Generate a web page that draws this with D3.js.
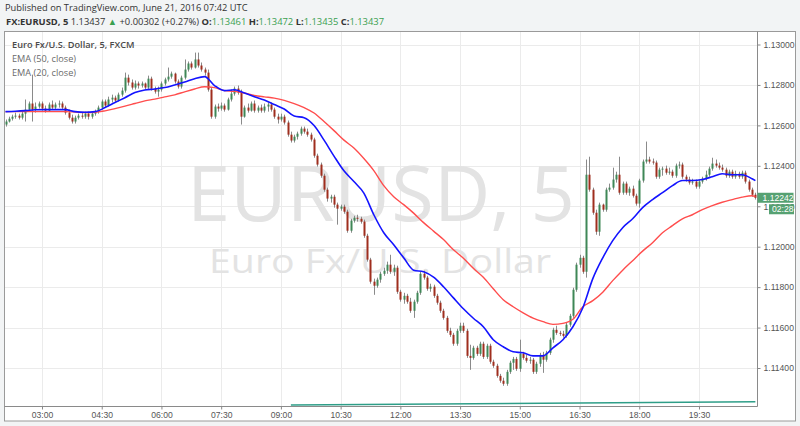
<!DOCTYPE html>
<html><head><meta charset="utf-8">
<script src="https://cdn.jsdelivr.net/npm/d3@7"></script>
<style>
html,body{margin:0;padding:0;background:#f2f4f5;}
svg{display:block;}
</style></head><body>
<svg id="c" width="800" height="426"></svg>
<script>
// ---------------- DATA ----------------
const startTime = "2016-06-20T02:05:00";
const barMinutes = 5;
const opens = [1.12604,1.12619,1.12633,1.12643,1.12648,1.12638,1.12658,1.12678,1.12708,1.12678,
1.12693,1.12708,1.12683,1.12673,1.12703,1.12688,1.12703,1.12708,1.12688,1.12663,
1.12638,1.12619,1.12638,1.12648,1.12643,1.12658,1.12643,1.12658,1.12668,1.12688,
1.12718,1.12698,1.12728,1.12737,1.12723,1.12752,1.12772,1.12836,1.12812,1.12787,
1.12807,1.12797,1.12807,1.12787,1.12831,1.12782,1.12767,1.12777,1.12807,1.12827,
1.12841,1.12856,1.12817,1.12792,1.12836,1.12876,1.12906,1.12886,1.12926,1.12896,
1.12876,1.12861,1.12777,1.12643,1.12693,1.12683,1.12698,1.12678,1.12728,1.12757,
1.12782,1.12762,1.12643,1.12688,1.12673,1.12708,1.12673,1.12688,1.12673,1.12693,
1.12703,1.12678,1.12643,1.12629,1.12643,1.12614,1.12554,1.12525,1.12544,1.12559,
1.12584,1.12569,1.12554,1.12530,1.12450,1.12406,1.12351,1.12282,1.12238,1.12247,
1.12208,1.12188,1.12198,1.12173,1.12079,1.12129,1.12143,1.12138,1.12124,1.12054,
1.11936,1.11827,1.11807,1.11837,1.11866,1.11881,1.11911,1.11876,1.11896,1.11777,
1.11738,1.11757,1.11728,1.11683,1.11728,1.11772,1.11866,1.11847,1.11792,1.11802,
1.11757,1.11723,1.11683,1.11648,1.11584,1.11564,1.11520,1.11584,1.11609,1.11584,
1.11460,1.11450,1.11500,1.11470,1.11520,1.11455,1.11510,1.11431,1.11411,1.11361,
1.11337,1.11322,1.11381,1.11426,1.11445,1.11396,1.11470,1.11450,1.11436,1.11441,
1.11381,1.11421,1.11465,1.11441,1.11475,1.11540,1.11589,1.11574,1.11569,1.11559,
1.11614,1.11658,1.11787,1.11911,1.11945,1.11876,1.12356,1.12282,1.12168,1.12074,
1.12208,1.12183,1.12282,1.12292,1.12332,1.12356,1.12267,1.12312,1.12267,1.12287,
1.12252,1.12213,1.12327,1.12421,1.12431,1.12421,1.12416,1.12346,1.12381,1.12386,
1.12366,1.12371,1.12351,1.12401,1.12406,1.12346,1.12332,1.12317,1.12322,1.12297,
1.12322,1.12336,1.12356,1.12386,1.12411,1.12401,1.12391,1.12381,1.12351,1.12371,
1.12346,1.12361,1.12346,1.12366,1.12322,1.12282,1.12257];
const highs = [1.12629,1.12643,1.12653,1.12663,1.12658,1.12668,1.12728,1.12718,1.12851,1.12713,
1.12718,1.12718,1.12698,1.12713,1.12723,1.12713,1.12723,1.12718,1.12698,1.12678,
1.12653,1.12648,1.12658,1.12663,1.12668,1.12668,1.12668,1.12678,1.12698,1.12728,
1.12728,1.12742,1.12752,1.12747,1.12762,1.12787,1.12861,1.12851,1.12827,1.12822,
1.12817,1.12817,1.12812,1.12846,1.12841,1.12792,1.12792,1.12817,1.12836,1.12886,
1.12866,1.12861,1.12827,1.12846,1.12926,1.12916,1.12916,1.12960,1.12960,1.12911,
1.12886,1.12876,1.12787,1.12703,1.12708,1.12713,1.12708,1.12737,1.12777,1.12792,
1.12797,1.12777,1.12698,1.12708,1.12718,1.12723,1.12698,1.12703,1.12708,1.12713,
1.12713,1.12688,1.12658,1.12658,1.12653,1.12624,1.12569,1.12554,1.12569,1.12594,
1.12594,1.12584,1.12564,1.12539,1.12460,1.12416,1.12361,1.12292,1.12257,1.12257,
1.12218,1.12208,1.12208,1.12183,1.12138,1.12153,1.12158,1.12148,1.12134,1.12064,
1.11945,1.11842,1.11847,1.11876,1.11896,1.11926,1.11960,1.11911,1.11906,1.11787,
1.11772,1.11767,1.11747,1.11738,1.11782,1.11876,1.11881,1.11856,1.11817,1.11812,
1.11767,1.11733,1.11693,1.11658,1.11599,1.11574,1.11594,1.11624,1.11624,1.11594,
1.11515,1.11510,1.11510,1.11530,1.11530,1.11520,1.11520,1.11441,1.11421,1.11371,
1.11352,1.11391,1.11436,1.11455,1.11455,1.11540,1.11480,1.11465,1.11455,1.11450,
1.11431,1.11475,1.11480,1.11485,1.11550,1.11599,1.11609,1.11584,1.11584,1.11624,
1.11668,1.11797,1.11921,1.11960,1.11955,1.12431,1.12445,1.12292,1.12183,1.12218,
1.12213,1.12292,1.12312,1.12391,1.12371,1.12445,1.12322,1.12322,1.12297,1.12302,
1.12262,1.12336,1.12431,1.12520,1.12445,1.12436,1.12426,1.12391,1.12396,1.12401,
1.12391,1.12381,1.12411,1.12421,1.12416,1.12356,1.12346,1.12336,1.12332,1.12332,
1.12346,1.12376,1.12396,1.12440,1.12431,1.12416,1.12406,1.12391,1.12381,1.12381,
1.12376,1.12371,1.12376,1.12376,1.12332,1.12292,1.12267];
const lows = [1.12594,1.12614,1.12624,1.12633,1.12629,1.12629,1.12619,1.12668,1.12619,1.12663,
1.12683,1.12673,1.12663,1.12668,1.12678,1.12678,1.12688,1.12678,1.12653,1.12629,
1.12609,1.12609,1.12629,1.12633,1.12633,1.12629,1.12633,1.12648,1.12658,1.12678,
1.12688,1.12693,1.12713,1.12713,1.12718,1.12742,1.12762,1.12797,1.12777,1.12777,
1.12782,1.12787,1.12777,1.12777,1.12772,1.12757,1.12742,1.12767,1.12797,1.12817,
1.12831,1.12807,1.12782,1.12782,1.12827,1.12866,1.12876,1.12881,1.12886,1.12866,
1.12846,1.12767,1.12633,1.12633,1.12668,1.12673,1.12668,1.12673,1.12718,1.12747,
1.12752,1.12604,1.12638,1.12663,1.12668,1.12663,1.12663,1.12663,1.12663,1.12668,
1.12668,1.12633,1.12609,1.12619,1.12604,1.12544,1.12515,1.12515,1.12530,1.12549,
1.12559,1.12544,1.12520,1.12440,1.12396,1.12341,1.12272,1.12223,1.12218,1.12193,
1.12109,1.12178,1.12163,1.12069,1.12069,1.12119,1.12124,1.12114,1.12044,1.11926,
1.11817,1.11762,1.11797,1.11822,1.11856,1.11866,1.11866,1.11856,1.11767,1.11728,
1.11718,1.11718,1.11673,1.11648,1.11718,1.11762,1.11837,1.11782,1.11777,1.11747,
1.11713,1.11673,1.11639,1.11574,1.11554,1.11510,1.11510,1.11574,1.11574,1.11450,
1.11391,1.11441,1.11460,1.11460,1.11445,1.11445,1.11421,1.11401,1.11352,1.11327,
1.11312,1.11312,1.11371,1.11391,1.11386,1.11381,1.11441,1.11426,1.11421,1.11371,
1.11371,1.11406,1.11376,1.11431,1.11465,1.11525,1.11564,1.11559,1.11550,1.11550,
1.11604,1.11648,1.11777,1.11896,1.11866,1.11847,1.12272,1.12158,1.12059,1.12054,
1.12173,1.12173,1.12272,1.12282,1.12317,1.12257,1.12257,1.12257,1.12252,1.12243,
1.12203,1.12193,1.12317,1.12411,1.12411,1.12406,1.12336,1.12336,1.12351,1.12356,
1.12356,1.12341,1.12341,1.12386,1.12336,1.12322,1.12307,1.12307,1.12287,1.12287,
1.12312,1.12327,1.12346,1.12376,1.12391,1.12381,1.12371,1.12341,1.12341,1.12336,
1.12336,1.12336,1.12336,1.12312,1.12272,1.12247,1.12233];
const closes = [1.12619,1.12633,1.12643,1.12648,1.12638,1.12658,1.12678,1.12708,1.12678,1.12693,
1.12708,1.12683,1.12673,1.12703,1.12688,1.12703,1.12708,1.12688,1.12663,1.12638,
1.12619,1.12638,1.12648,1.12643,1.12658,1.12643,1.12658,1.12668,1.12688,1.12718,
1.12698,1.12728,1.12737,1.12723,1.12752,1.12772,1.12836,1.12812,1.12787,1.12807,
1.12797,1.12807,1.12787,1.12831,1.12782,1.12767,1.12777,1.12807,1.12827,1.12841,
1.12856,1.12817,1.12792,1.12836,1.12876,1.12906,1.12886,1.12926,1.12896,1.12876,
1.12861,1.12777,1.12643,1.12693,1.12683,1.12698,1.12678,1.12728,1.12757,1.12782,
1.12762,1.12643,1.12688,1.12673,1.12708,1.12673,1.12688,1.12673,1.12693,1.12703,
1.12678,1.12643,1.12629,1.12643,1.12614,1.12554,1.12525,1.12544,1.12559,1.12584,
1.12569,1.12554,1.12530,1.12450,1.12406,1.12351,1.12282,1.12238,1.12247,1.12208,
1.12188,1.12198,1.12173,1.12079,1.12129,1.12143,1.12138,1.12124,1.12054,1.11936,
1.11827,1.11807,1.11837,1.11866,1.11881,1.11911,1.11876,1.11896,1.11777,1.11738,
1.11757,1.11728,1.11683,1.11728,1.11772,1.11866,1.11847,1.11792,1.11802,1.11757,
1.11723,1.11683,1.11648,1.11584,1.11564,1.11520,1.11584,1.11609,1.11584,1.11460,
1.11450,1.11500,1.11470,1.11520,1.11455,1.11510,1.11431,1.11411,1.11361,1.11337,
1.11322,1.11381,1.11426,1.11445,1.11396,1.11470,1.11450,1.11436,1.11441,1.11381,
1.11421,1.11465,1.11441,1.11475,1.11540,1.11589,1.11574,1.11569,1.11559,1.11614,
1.11658,1.11787,1.11911,1.11945,1.11876,1.12356,1.12282,1.12168,1.12074,1.12208,
1.12183,1.12282,1.12292,1.12332,1.12356,1.12267,1.12312,1.12267,1.12287,1.12252,
1.12213,1.12327,1.12421,1.12431,1.12421,1.12416,1.12346,1.12381,1.12386,1.12366,
1.12371,1.12351,1.12401,1.12406,1.12346,1.12332,1.12317,1.12322,1.12297,1.12322,
1.12336,1.12356,1.12386,1.12411,1.12401,1.12391,1.12381,1.12351,1.12371,1.12346,
1.12361,1.12346,1.12366,1.12322,1.12282,1.12257,1.12242];

// EMA readings (bar index -> value)
const emaBars = [0,3,6,9,12,15,18,21,24,27,30,33,36,39,42,45,48,51,54,57,60,63,66,69,72,75,78,81,84,87,
90,93,96,99,102,105,108,111,114,117,120,123,126,129,132,135,138,141,144,147,150,153,156,159,162,165,168,171,174,177,
180,183,186,189,192,195,198,201,204,207,210,213,216,219,222,225,226];
const ema20 = [1.12668,1.12670,1.12673,1.12677,1.12678,1.12678,1.12678,1.12668,1.12665,1.12668,
1.12688,1.12713,1.12737,1.12762,1.12775,1.12780,1.12787,1.12800,1.12814,1.12831,1.12841,1.12797,1.12772,1.12776,1.12760,1.12742,1.12725,1.12703,1.12681,1.12646,
1.12638,1.12599,1.12527,1.12448,1.12375,1.12322,1.12265,1.12158,1.12069,1.12010,1.11945,1.11884,1.11876,1.11849,1.11802,1.11747,1.11693,1.11646,1.11604,1.11540,
1.11505,1.11480,1.11475,1.11460,1.11460,1.11500,1.11540,1.11604,1.11698,1.11842,
1.11945,1.12030,1.12094,1.12138,1.12193,1.12233,1.12267,1.12302,1.12327,1.12327,1.12332,1.12346,1.12361,1.12356,1.12356,1.12336,1.12327];
const ema50 = [1.12668,1.12668,1.12668,1.12668,1.12668,1.12668,1.12668,1.12666,1.12664,1.12665,
1.12672,1.12683,1.12695,1.12708,1.12721,1.12730,1.12741,1.12751,1.12766,1.12780,1.12791,1.12787,1.12772,1.12768,1.12760,1.12748,1.12741,1.12735,1.12724,1.12708,
1.12688,1.12661,1.12619,1.12574,1.12527,1.12488,1.12436,1.12376,1.12302,1.12247,1.12208,1.12166,1.12119,1.12077,1.12035,1.11985,1.11943,1.11893,1.11849,1.11792,
1.11738,1.11703,1.11673,1.11647,1.11629,1.11616,1.11621,1.11641,1.11703,1.11733,
1.11775,1.11832,1.11884,1.11931,1.11978,1.12020,1.12069,1.12104,1.12138,1.12158,1.12183,1.12203,1.12220,1.12233,1.12245,1.12252,1.12247];

// teal drawing at the foot of the chart
const trendBars = [86, 226];
const trendValues = [1.11217, 1.11233];

const timeTickLabels = ["03:00","04:30","06:00","07:30","09:00","10:30","12:00","13:30","15:00","16:30","18:00","19:30"];
const priceTicks = [1.114,1.116,1.118,1.120,1.122,1.124,1.126,1.128,1.130];
const lastPrice = 1.12242;
const countdown = "02:28";

const headerLine1 = "Published on TradingView.com, June 21, 2016 07:42 UTC";
const symbolName = "FX:EURUSD, 5";
const lastText = "1.13437";
const changeText = "+0.00302 (+0.27%)";
const ohlcLabels = ["O:","H:","L:","C:"];
const ohlcValues = ["1.13461","1.13472","1.13435","1.13437"];
const legendTitle = "Euro Fx/U.S. Dollar, 5, FXCM";
const legendLines = ["EMA (50, close)","EMA (20, close)"];
const watermark1 = "EURUSD, 5";
const watermark2 = "Euro Fx/U.S. Dollar";

// ---------------- DRAW ----------------
const svg = d3.select("#c");
const t0 = new Date(startTime);
const barTime = i => new Date(t0.getTime() + i*barMinutes*60000);
const nBars = closes.length;

const plot = {left:5, right:757.5, top:32, bottom:406.5};
const x = d3.scaleTime().domain([barTime(0), barTime(nBars-1)]).range([5.5, 755.4]);
const y = d3.scaleLinear().domain([1.114, 1.130]).range([368, 44.5]);

// chart frame
svg.append("rect").attr("x",4.5).attr("y",31.5).attr("width",791).attr("height",389.5)
  .attr("fill","#fff").attr("stroke","#9a9a9a");

svg.append("clipPath").attr("id","pc").append("rect")
  .attr("x",plot.left).attr("y",plot.top).attr("width",plot.right-plot.left).attr("height",plot.bottom-plot.top);

const tickDates = timeTickLabels.map(s => { const [h,m]=s.split(":").map(Number); const d=new Date(t0); d.setHours(h,m,0,0); return d; });

// grid
const grid = svg.append("g").attr("clip-path","url(#pc)");
grid.selectAll("line.h").data(priceTicks).join("line")
  .attr("x1",plot.left).attr("x2",plot.right)
  .attr("y1",d=>Math.round(y(d))+0.5).attr("y2",d=>Math.round(y(d))+0.5)
  .attr("stroke","#ebebeb");
grid.selectAll("line.v").data(tickDates).join("line")
  .attr("y1",plot.top).attr("y2",plot.bottom)
  .attr("x1",d=>Math.round(x(d))+0.5).attr("x2",d=>Math.round(x(d))+0.5)
  .attr("stroke","#ebebeb");

// watermark
const wm = svg.append("g").attr("clip-path","url(#pc)").attr("font-family","'Open Sans', sans-serif").attr("fill","#e3e3e3").attr("text-anchor","middle");
wm.append("text").attr("x",381).attr("y",221).attr("font-size",77).attr("textLength",388).attr("lengthAdjust","spacingAndGlyphs").text(watermark1);
wm.append("text").attr("x",380).attr("y",273).attr("font-size",33).attr("textLength",342).attr("lengthAdjust","spacingAndGlyphs").text(watermark2);

// candles
const cg = svg.append("g").attr("clip-path","url(#pc)");
const idx = d3.range(nBars);
cg.selectAll("line.w").data(idx).join("line")
  .attr("x1",i=>Math.round(x(barTime(i)))+0.5).attr("x2",i=>Math.round(x(barTime(i)))+0.5)
  .attr("y1",i=>y(highs[i])).attr("y2",i=>y(lows[i]))
  .attr("stroke","#8a8a8a").attr("stroke-width",1);
cg.selectAll("rect.b").data(idx).join("rect")
  .attr("x",i=>Math.round(x(barTime(i)))-0.5)
  .attr("width",2)
  .attr("y",i=>y(Math.max(opens[i],closes[i])))
  .attr("height",i=>Math.max(1, Math.abs(y(opens[i])-y(closes[i]))))
  .attr("fill",i=>closes[i]>=opens[i]?"#3f8757":"#9f2e1e");

// EMAs
const lineGen = arr => d3.line().x((d,k)=>x(barTime(emaBars[k]))).y(d=>y(d)).curve(d3.curveMonotoneX)(arr);
cg.append("path").attr("d",lineGen(ema50)).attr("fill","none").attr("stroke","#ff4d4d").attr("stroke-width",1.4);
cg.append("path").attr("d",lineGen(ema20)).attr("fill","none").attr("stroke","#1414ff").attr("stroke-width",1.6);

// teal line
cg.append("path").attr("d", d3.line().x((d,k)=>x(barTime(trendBars[k]))).y(d=>y(d))(trendValues))
  .attr("fill","none").attr("stroke","#2e9e88").attr("stroke-width",1.6);

// axes
const axisFont = "'Liberation Sans', Arial, sans-serif";
const yAxis = svg.append("g").attr("transform",`translate(${plot.right},0)`)
  .call(d3.axisRight(y).tickValues(priceTicks).tickFormat(d3.format(".5f")).tickSize(3).tickPadding(3));
yAxis.select(".domain").remove();
yAxis.selectAll("text").attr("font-family",axisFont).attr("font-size",8.6).attr("fill","#555");
yAxis.selectAll("line").attr("stroke","#888");

const xAxis = svg.append("g").attr("transform",`translate(0,${plot.bottom})`)
  .call(d3.axisBottom(x).tickValues(tickDates).tickFormat(d3.timeFormat("%H:%M")).tickSize(3).tickPadding(2));
xAxis.select(".domain").remove();
xAxis.selectAll("text").attr("font-family",axisFont).attr("font-size",8.6).attr("fill","#555");
xAxis.selectAll("line").attr("stroke","#888");

svg.append("line").attr("x1",4.5).attr("x2",plot.right).attr("y1",plot.bottom).attr("y2",plot.bottom).attr("stroke","#8a8a8a");
svg.append("line").attr("x1",plot.right).attr("x2",plot.right).attr("y1",31.5).attr("y2",plot.bottom).attr("stroke","#8a8a8a");

// last price + countdown labels
const ly = y(lastPrice);
const lab = svg.append("g").attr("font-family",axisFont).attr("font-size",8.6).attr("fill","#fff");
lab.append("rect").attr("x",plot.right).attr("y",ly-5).attr("width",36).attr("height",10).attr("fill","#56a172");
lab.append("text").attr("x",plot.right+5).attr("y",ly+3.2).text(d3.format(".5f")(lastPrice));
lab.append("rect").attr("x",769).attr("y",ly+6.5).attr("width",25).attr("height",10).attr("fill","#56a172");
lab.append("text").attr("x",772).attr("y",ly+14.7).text(countdown);

// header
const hdrFont = "'Open Sans', sans-serif";
svg.append("text").attr("x",5).attr("y",11).attr("font-family",hdrFont).attr("font-size",9.3).attr("fill","#333").text(headerLine1);
const h2 = svg.append("text").attr("x",6).attr("y",25).attr("font-family",hdrFont).attr("font-size",9.4).attr("fill","#333");
h2.append("tspan").attr("font-weight","bold").text(symbolName);
h2.append("tspan").text(" " + lastText + " ");
h2.append("tspan").attr("fill","#3aa050").text("▲");
h2.append("tspan").text(" " + changeText + " ");
ohlcLabels.forEach((l,k)=>{
  h2.append("tspan").attr("font-weight","bold").text((k?" ":"")+l);
  h2.append("tspan").attr("fill","#3aa050").text(ohlcValues[k]);
});

// legend
svg.append("text").attr("x",12).attr("y",48).attr("font-family",hdrFont).attr("font-size",9.2).attr("font-weight","600").attr("fill","#4a4a4a").text(legendTitle);
legendLines.forEach((t,k)=>{
  svg.append("text").attr("x",12).attr("y",62+k*14).attr("font-family",hdrFont).attr("font-size",9.2).attr("fill","#6a6a6a").text(t);
});
</script>
</body></html>
